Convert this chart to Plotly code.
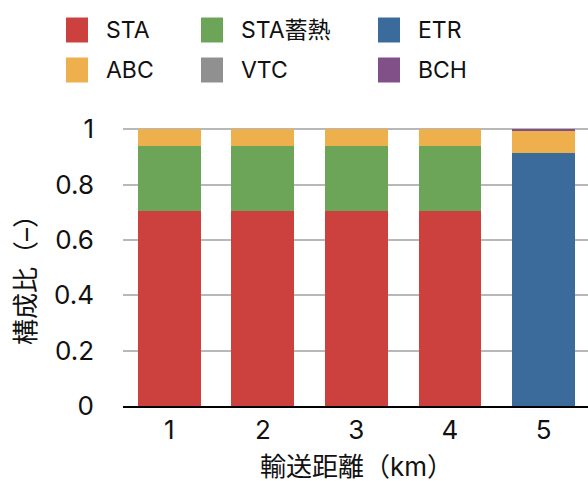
import plotly.graph_objects as go

# Transport distance categories (km)
distances = [1, 2, 3, 4, 5]

# Composition ratio of each technology, stacked bottom to top
series_names = ["STA", "STA蓄熱", "ETR", "ABC", "VTC", "BCH"]
sta = [0.705, 0.705, 0.705, 0.705, 0.0]
sta_storage = [0.235, 0.235, 0.235, 0.235, 0.0]
etr = [0.0, 0.0, 0.0, 0.0, 0.913]
abc = [0.06, 0.06, 0.06, 0.06, 0.083]
vtc = [0.0, 0.0, 0.0, 0.0, 0.0]
bch = [0.0, 0.0, 0.0, 0.0, 0.004]
series_values = [sta, sta_storage, etr, abc, vtc, bch]
series_colors = ["#cc413d", "#6ca558", "#3b6b9b", "#eeaf4d", "#909090", "#815089"]

y_ticks = [0, 0.2, 0.4, 0.6, 0.8, 1]
y_tick_text = ["0", "0.2", "0.4", "0.6", "0.8", "1"]

FONT = "Inter, Noto Sans CJK JP, sans-serif"
W, H = 588, 481
L, R, T, B = 123, 0, 128, 75
PW, PH = W - L - R, H - T - B


def xp(px):
    return (px - L) / PW


def yp(py):
    return (H - B - py) / PH


fig = go.Figure()
for name, vals, col in zip(series_names, series_values, series_colors):
    fig.add_trace(go.Bar(
        x=distances, y=vals, name=name, marker=dict(color=col, line=dict(width=0)),
        width=0.67, showlegend=False,
    ))

# Legend drawn as large swatches in a 3-column grid
col_x = [66, 201, 378]
row_y = [30, 70]
for i, (name, col) in enumerate(zip(series_names, series_colors)):
    cx = col_x[i % 3]
    cy = row_y[i // 3]
    fig.add_shape(type="rect", xref="paper", yref="paper",
                  x0=xp(cx), x1=xp(cx + 22), y0=yp(cy - 12.5), y1=yp(cy + 12.5),
                  fillcolor=col, line=dict(width=0), layer="above")
    fig.add_annotation(xref="paper", yref="paper", x=xp(cx + 38), y=yp(cy),
                       text=name, showarrow=False, xanchor="left", yanchor="middle",
                       font=dict(family=FONT, size=23, color="#111111"))

# Axis titles
fig.add_annotation(xref="paper", yref="paper", x=xp(25), y=yp(274),
                   text="構成比（–）", textangle=-90, showarrow=False,
                   xanchor="center", yanchor="middle",
                   font=dict(family=FONT, size=26, color="#111111"))
fig.add_annotation(xref="paper", yref="paper", x=xp(356), y=yp(449),
                   text="輸送距離（km）", showarrow=False,
                   xanchor="center", yanchor="top",
                   font=dict(family=FONT, size=26, color="#111111"))

spacing = 93.6
x_lo = 1 - (169.2 - L) / spacing
x_hi = 1 + (W - R - 169.2) / spacing

fig.update_layout(
    width=W, height=H, barmode="stack",
    margin=dict(l=L, r=R, t=T, b=B, pad=0),
    paper_bgcolor="white", plot_bgcolor="white",
    font=dict(family=FONT, size=26, color="#111111"),
    xaxis=dict(range=[x_lo, x_hi], tickmode="array", tickvals=distances,
               ticktext=[str(d) for d in distances], showgrid=False,
               showline=True, linecolor="#000000", linewidth=2, ticks="",
               ticklabelstandoff=0, zeroline=False,
               tickfont=dict(family=FONT, size=26, color="#111111")),
    yaxis=dict(range=[0, 1.005], tickmode="array", tickvals=y_ticks,
               ticktext=y_tick_text, showgrid=True, gridcolor="#b8b8b8",
               gridwidth=2, zeroline=False, showline=False, ticks="",
               ticklabelstandoff=28,
               tickfont=dict(family=FONT, size=26, color="#111111")),
)

fig.write_html("out.html")
